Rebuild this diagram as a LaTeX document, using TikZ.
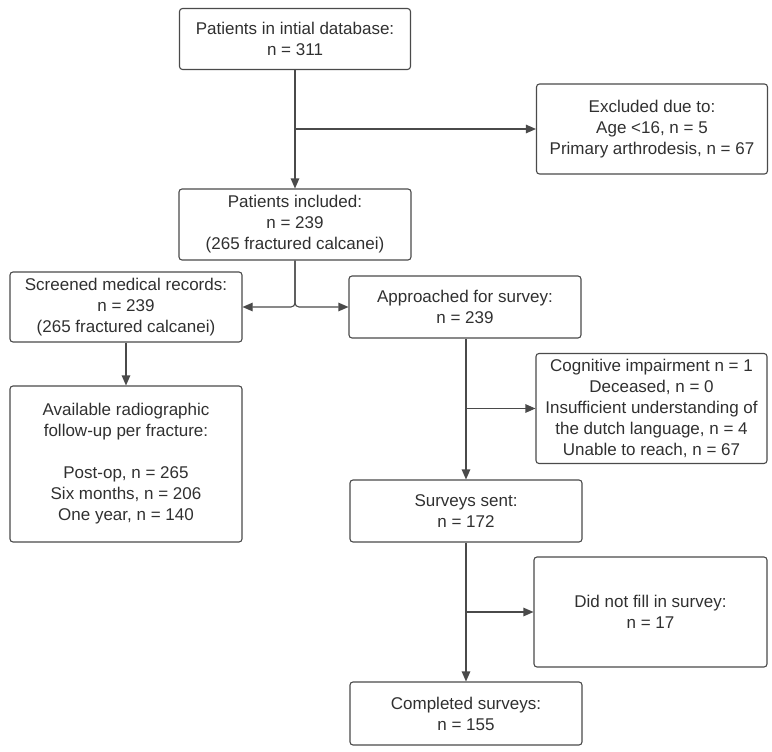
\documentclass[tikz,border=0pt]{standalone}
\usepackage{fontspec}
\setmainfont{Liberation Sans}
\usetikzlibrary{arrows.meta}
\definecolor{linec}{HTML}{4A4A4A}
\definecolor{textc}{HTML}{303030}
\tikzset{
  box/.style={draw=linec, line width=1.1pt, rounded corners=3pt, align=center,
    text=textc, font=\fontsize{17}{21}\selectfont, inner sep=0pt},
  arr/.style={draw=linec, line width=1.1pt, -{Triangle[length=10pt,width=8.5pt]}},
}
\begin{document}
\begin{tikzpicture}[x=1pt,y=-1pt]
\useasboundingbox (0,0) rectangle (772,752);
\node[box, minimum width=231pt, minimum height=61pt] (db) at (295,39)
  {Patients in intial database:\\ n = 311};
\node[box, minimum width=231pt, minimum height=90pt] (ex) at (652,129)
  {Excluded due to:\\ Age <16, n = 5\\ Primary arthrodesis, n = 67};
\node[box, minimum width=232pt, minimum height=71pt] (inc) at (295,224.5)
  {Patients included:\\ n = 239\\ (265 fractured calcanei)};
\node[box, minimum width=232pt, minimum height=70pt] (scr) at (126,307)
  {Screened medical records:\\ n = 239\\ (265 fractured calcanei)};
\node[box, minimum width=232pt, minimum height=156pt] (rad) at (126,464)
  {Available radiographic\\ follow-up per fracture:\\[21pt] Post-op, n = 265\\ Six months, n = 206\\ One year, n = 140};
\node[box, minimum width=232pt, minimum height=62pt] (app) at (465,307)
  {Approached for survey:\\ n = 239};
\node[box, minimum width=231pt, minimum height=110pt] (cog) at (651.5,408.5)
  {Cognitive impairment n = 1\\ Deceased, n = 0\\ Insufficient understanding of\\ the dutch language, n = 4\\ Unable to reach, n = 67};
\node[box, minimum width=232pt, minimum height=62pt] (sent) at (466,511)
  {Surveys sent:\\ n = 172};
\node[box, minimum width=233pt, minimum height=110pt] (dnf) at (650.5,612)
  {Did not fill in survey:\\ n = 17};
\node[box, minimum width=232pt, minimum height=63pt] (comp) at (466,713.5)
  {Completed surveys:\\ n = 155};

\draw[arr] (db.south) -- (inc.north);
\draw[arr] (db.south |- ex.west) -- (ex.west);
\draw[arr, rounded corners=4pt] (inc.south) |- (scr.east);
\draw[arr, rounded corners=4pt] (inc.south) |- (app.west);
\draw[arr] (scr.south) -- (rad.north);
\draw[arr] (app.south -| sent.north) -- (sent.north);
\draw[arr] (sent.north |- cog.west) -- (cog.west);
\draw[arr] (sent.south) -- (comp.north);
\draw[arr] (sent.south |- dnf.west) -- (dnf.west);
\end{tikzpicture}
\end{document}
